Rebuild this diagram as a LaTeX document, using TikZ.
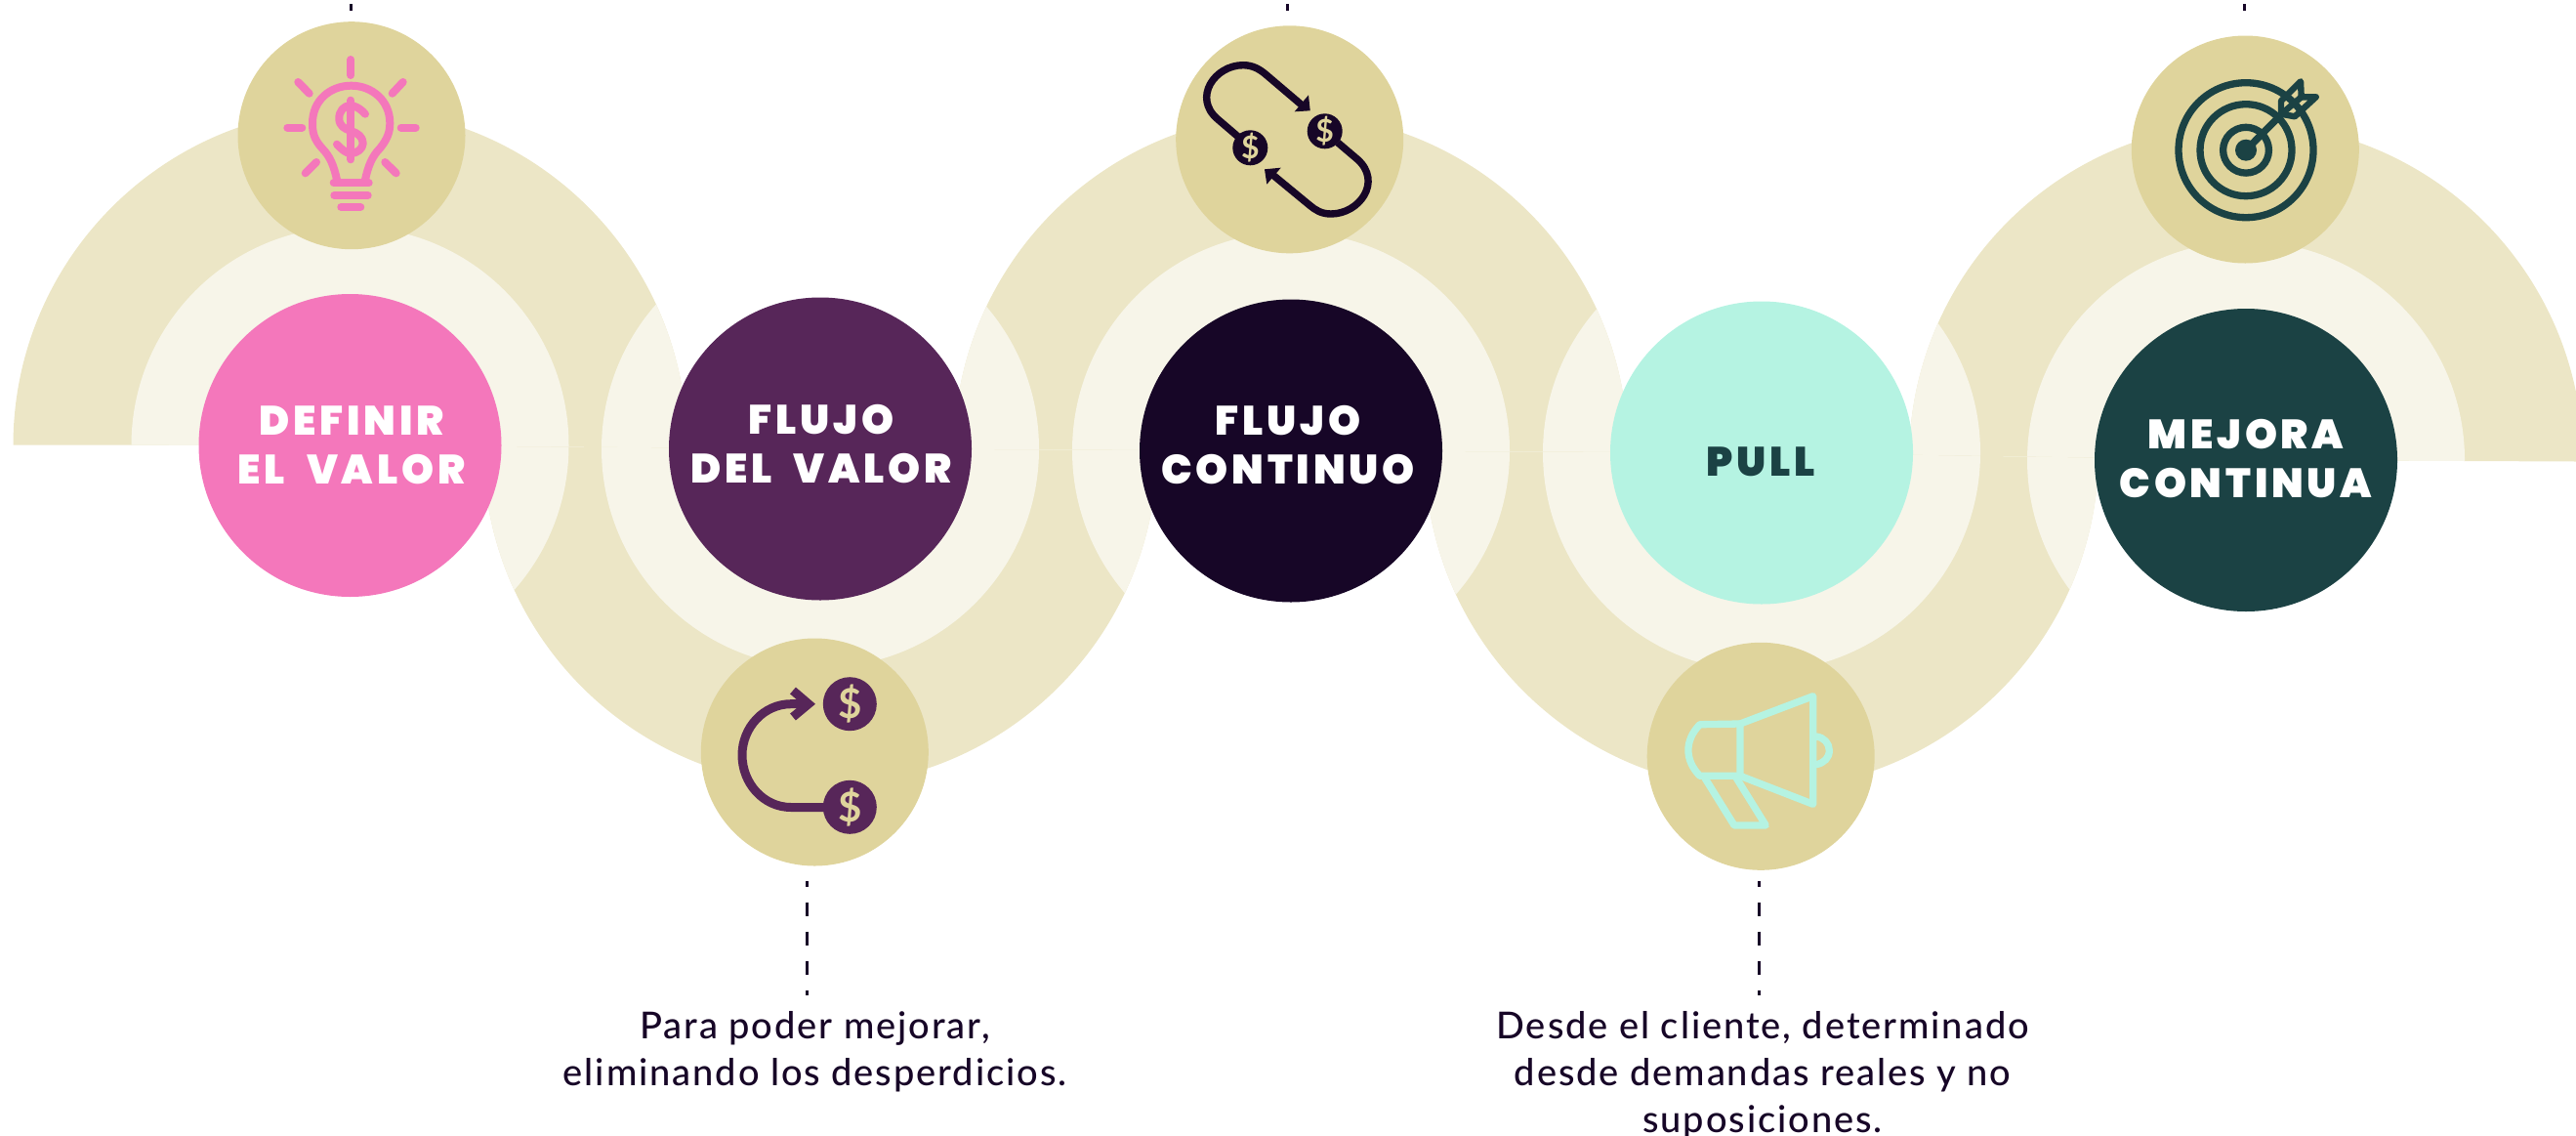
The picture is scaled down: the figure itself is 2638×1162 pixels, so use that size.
\documentclass[tikz,border=0pt]{standalone}
\usepackage{fontspec}
\setmainfont{Lato}
\newfontfamily\heavyfont[LetterSpace=9,WordSpace=2]{Poppins Black}
\newfontfamily\bodyfont[LetterSpace=5]{Lato Medium}
\definecolor{bandc}{HTML}{ECE6C6}
\definecolor{lightc}{HTML}{F7F5E9}
\definecolor{iconc}{HTML}{DFD49C}
\definecolor{pinkc}{HTML}{F477BB}
\definecolor{purplec}{HTML}{572659}
\definecolor{navyc}{HTML}{170627}
\definecolor{mintc}{HTML}{B5F3E2}
\definecolor{tealc}{HTML}{1B4244}
\tikzset{
  main/.style={circle,minimum size=155pt,inner sep=0pt},
  mainlabel/.style={inner sep=0pt,align=center,font=\heavyfont\fontsize{21}{25}\selectfont},
  iconbg/.style={circle,fill=iconc,minimum size=116.5pt,inner sep=0pt},
  desc/.style={align=center,text=navyc,font=\bodyfont\fontsize{19}{24}\selectfont},
  tick/.style={navyc,line width=1.5pt,dash pattern=on 7.25pt off 7.75pt,dash phase=4.25pt},
  shorttick/.style={navyc,line width=1.5pt},
  coin/.style={circle,inner sep=0pt,minimum size=27.5pt,text=iconc,font=\bfseries\fontsize{21}{21}\selectfont},
  smallcoin/.style={coin,minimum size=18pt,font=\bfseries\fontsize{16}{16}\selectfont},
}
\begin{document}
\begin{tikzpicture}[x=0.5pt,y=-0.5pt]
\useasboundingbox (0,0) rectangle (2638,1162);
\coordinate (c1) at (358.5,456);
\coordinate (c2) at (840,459.5);
\coordinate (c3) at (1322,461.5);
\coordinate (c4) at (1804,463.5);
\coordinate (c5) at (2300,471);
\def\RO{172.5pt}
\def\RI{112pt}
\clip (0,0) rectangle (2638,1162);
% upper half
\begin{scope}
\clip (0,-10) -- (2638,-10) -- (2638,472.5) -- (c5) -- (c4) -- (c3) -- (c2) -- (c1) -- (0,455.5) -- cycle;
\foreach \c in {c1,c3,c5} \fill[bandc] (\c) circle[radius=\RO];
\foreach \c in {c1,c3,c5} \fill[lightc] (\c) circle[radius=\RI];
\foreach \a/\b in {c2/c1,c2/c3,c4/c3,c4/c5}{
  \begin{scope}\clip (\a) circle[radius=\RI]; \fill[lightc] (\b) circle[radius=\RO];\end{scope}}
\end{scope}
% lower half
\begin{scope}
\clip (0,1170) -- (2638,1170) -- (2638,472.5) -- (c5) -- (c4) -- (c3) -- (c2) -- (c1) -- (0,455.5) -- cycle;
\foreach \c in {c2,c4} \fill[bandc] (\c) circle[radius=\RO];
\foreach \c in {c2,c4} \fill[lightc] (\c) circle[radius=\RI];
\foreach \a/\b in {c1/c2,c3/c2,c3/c4,c5/c4}{
  \begin{scope}\clip (\a) circle[radius=\RI]; \fill[lightc] (\b) circle[radius=\RO];\end{scope}}
\end{scope}
% main nodes
\node[main,fill=pinkc] (m1) at (358.5,456) {};
\node[main,fill=purplec] (m2) at (840,459.5) {};
\node[main,fill=navyc] (m3) at (1322,461.5) {};
\node[main,fill=mintc] (m4) at (1804,463.5) {};
\node[main,fill=tealc] (m5) at (2300,471) {};
\node[mainlabel,text=white] (l1) at (360,455.5) {DEFINIR\\EL VALOR};
\node[mainlabel,text=white] (l2) at (841,454.5) {FLUJO\\DEL VALOR};
\node[mainlabel,text=white] (l3) at (1319,455.5) {FLUJO\\CONTINUO};
\node[mainlabel,text=tealc] (l4) at (1803.5,472.5) {PULL};
\node[mainlabel,text=white] (l5) at (2300,469.5) {MEJORA\\CONTINUA};
% icon circles
\node[iconbg] (i1) at (360,138.7) {};
\node[iconbg] (i2) at (834.3,770) {};
\node[iconbg] (i3) at (1320.7,142.8) {};
\node[iconbg] (i4) at (1803.2,774.3) {};
\node[iconbg] (i5) at (2299.3,153) {};
% bulb icon
\begin{scope}[shift={(230,0)},pinkc,line width=4pt,line cap=round,line join=round]
\draw (129.3,61) -- (129.3,77);
\draw (75.3,84) -- (86.7,95.7);
\draw (182.7,84) -- (171.7,95.7);
\draw (64.3,130.7) -- (79.3,130.7);
\draw (180.7,130.7) -- (195.7,130.7);
\draw (82.7,177.3) -- (94,166);
\draw (175.7,177.3) -- (164.3,166);
\draw (115,184) .. controls (112,170) and (108,160) .. (100,152) .. controls (91,142) and (90,135) .. (90,126) .. controls (90,103) and (108,87.7) .. (129.7,87.7) .. controls (151,87.7) and (169.3,103) .. (169.3,126) .. controls (169.3,135) and (167,142) .. (159,152) .. controls (151,160) and (147,170) .. (144,184);
\draw (111.7,187.3) -- (147.7,187.3);
\draw (112.3,200) -- (146.7,200);
\draw (119.3,212) -- (139.3,212);
\draw (129.3,102.7) -- (129.3,163.3);
\draw (144,116.7) .. controls (138,110) and (132,108) .. (129,108) .. controls (122,108) and (117,114) .. (117.3,121.7) .. controls (117.5,129) and (123,132) .. (129.3,134) .. controls (136,136) and (141.7,140) .. (141.7,146.7) .. controls (141.7,152) and (136,157) .. (129.3,157) .. controls (124,157) and (119,152) .. (115,147.7);
\end{scope}
% flow icon
\draw[purplec,line width=4.5pt] (826,720.7) -- (810,720.7) .. controls (782,720.7) and (760,745) .. (760,773) .. controls (760,802) and (782,826.5) .. (810,826.5) -- (860,826.5);
\draw[purplec,line width=4.5pt] (812,707) -- (828,720.7) -- (812,734);
\node[coin,fill=purplec] (d1) at (870.3,720.7) {\$};
\node[coin,fill=purplec] (d2) at (870.3,826.3) {\$};
% cycle icon
\draw[navyc,line width=3.7pt] (1268,140) -- (1247,122) .. controls (1221,100) and (1244,66.7) .. (1273,66.7) .. controls (1283,66.7) and (1290,71) .. (1296,76) -- (1336,110);
\draw[navyc,line width=3.7pt] (1370,146) -- (1390,163) .. controls (1416,186) and (1392,219) .. (1363,219) .. controls (1353,219) and (1347,215) .. (1341,210) -- (1301,177);
\fill[navyc] (1340,97.3) -- (1341.7,113.3) -- (1325.7,114.3) -- cycle;
\fill[navyc] (1295,173.3) -- (1311.7,171.7) -- (1297.3,188.7) -- cycle;
\node[smallcoin,fill=navyc] (d3) at (1280.3,151.3) {\$};
\node[smallcoin,fill=navyc] (d4) at (1356.7,134.3) {\$};
% megaphone
\begin{scope}[mintc,line width=3.65pt,line join=round,line cap=round]
\draw (1782,741) -- (1856.7,712.7) -- (1856.7,823.3) -- (1782,794.3) -- cycle;
\draw (1782,741) -- (1740.7,741.7) .. controls (1725,758) and (1725,778) .. (1740.7,794.3) -- (1782,794.3);
\draw (1746,796.7) -- (1776,845) -- (1808.3,845) -- (1778.3,796.7);
\draw (1860,754) .. controls (1868,755) and (1873.3,761) .. (1873.3,768.3) .. controls (1873.3,776) and (1868,781) .. (1860,782.7);
\end{scope}
% target
\begin{scope}[tealc,line width=3.65pt]
\draw (2300,153.7) circle[radius=69];
\draw (2300,153.7) circle[radius=47];
\draw (2300,153.7) circle[radius=23.4];
\fill (2300,153.7) circle[radius=11];
\draw (2300,153.7) -- (2336.7,116.7);
\draw[line join=round,line cap=round,line width=3.2pt] (2336,103.3) -- (2356,83.3) -- (2356.7,99.3) -- (2371.7,99.3) -- (2350,119.3) -- (2336,116.7) -- cycle;
\draw[line width=3.2pt] (2336,117) -- (2356.7,99.3);
\end{scope}
% connectors
\coordinate (t1) at (359,4); \coordinate (b1) at (359,11);
\coordinate (t3) at (1318,4); \coordinate (b3) at (1318,11);
\coordinate (t5) at (2298.7,4); \coordinate (b5) at (2298.7,11);
\draw[shorttick] (t1) -- (b1);
\draw[shorttick] (t3) -- (b3);
\draw[shorttick] (t5) -- (b5);
\coordinate (s2) at (826.5,902); \coordinate (e2) at (826.5,1019);
\coordinate (s4) at (1801,902); \coordinate (e4) at (1801,1019);
\draw[tick] (s2) -- (e2);
\draw[tick] (s4) -- (e4);
% descriptions
\node[desc,anchor=north,inner sep=0pt] (t2a) at (834.5,1035) {Para poder mejorar,\\eliminando los desperdicios.};
\node[desc,anchor=north,inner sep=0pt] (t4a) at (1805,1035) {Desde el cliente, determinado\\desde demandas reales y no\\suposiciones.};
\end{tikzpicture}
\end{document}
